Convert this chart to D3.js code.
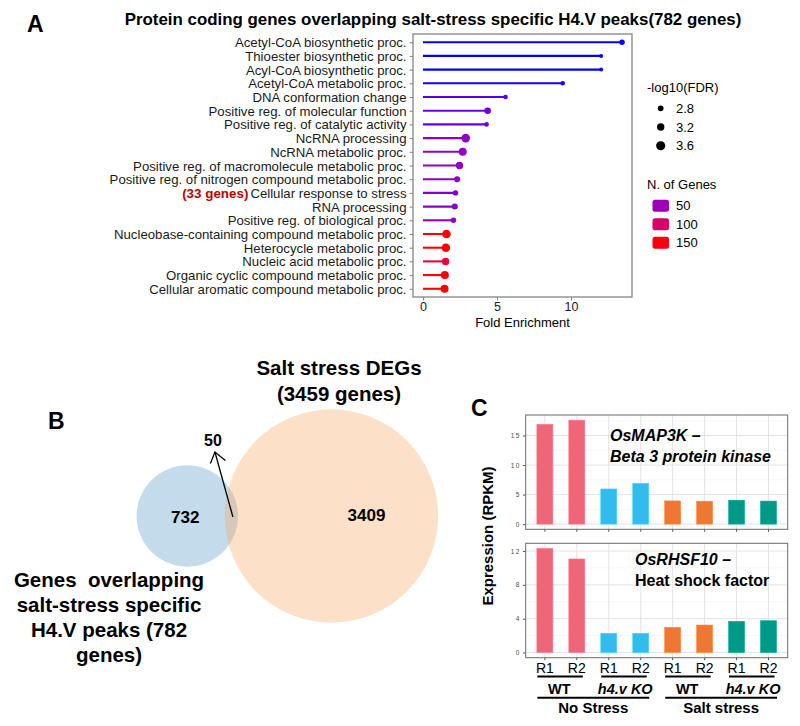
<!DOCTYPE html>
<html><head><meta charset="utf-8">
<script src="https://cdn.jsdelivr.net/npm/d3@7"></script>
<style>
body{margin:0;background:#fff}
svg{font-family:"Liberation Sans",Arial,Helvetica,sans-serif}
</style>
</head><body>
<svg id="fig" width="800" height="726"></svg>
<script>
// ---------------- Panel A data ----------------
const terms = [
  "Acetyl-CoA biosynthetic proc.",
  "Thioester biosynthetic proc.",
  "Acyl-CoA biosynthetic proc.",
  "Acetyl-CoA metabolic proc.",
  "DNA conformation change",
  "Positive reg. of molecular function",
  "Positive reg. of catalytic activity",
  "NcRNA processing",
  "NcRNA metabolic proc.",
  "Positive reg. of macromolecule metabolic proc.",
  "Positive reg. of nitrogen compound metabolic proc.",
  "Cellular response to stress",
  "RNA processing",
  "Positive reg. of biological proc.",
  "Nucleobase-containing compound metabolic proc.",
  "Heterocycle metabolic proc.",
  "Nucleic acid metabolic proc.",
  "Organic cyclic compound metabolic proc.",
  "Cellular aromatic compound metabolic proc."
];
const foldEnrichment = [13.45, 12.04, 12.04, 9.44, 5.58, 4.37, 4.30, 2.89, 2.69, 2.47, 2.31, 2.20, 2.15, 2.06, 1.59, 1.55, 1.53, 1.48, 1.46];
const negLog10FDR   = [2.73, 2.40, 2.40, 2.54, 2.54, 3.00, 2.54, 3.47, 3.33, 3.19, 2.87, 2.73, 2.87, 2.73, 3.47, 3.47, 3.19, 3.33, 3.33];
const nGenes        = [5, 5, 5, 6, 14, 24, 23, 40, 44, 42, 40, 33, 38, 45, 151, 153, 130, 153, 151];
const highlightTerm = "Cellular response to stress";
const highlightNote = "(33 genes)";
const xTicksA = [0, 5, 10];
const fdrLegend = [2.8, 3.2, 3.6];
const genesLegend = [50, 100, 150];

// ---------------- Panel B data ----------------
const vennLabels = ["Genes  overlapping|salt-stress specific|H4.V peaks (782|genes)", "Salt stress DEGs|(3459 genes)"];
const vennTotals = [782, 3459];
const vennOnly = [732, 3409];
const vennShared = 50;

// ---------------- Panel C data ----------------
const replicates = ["R1", "R2", "R1", "R2", "R1", "R2", "R1", "R2"];
const genotypes = ["WT", "h4.v KO", "WT", "h4.v KO"];
const conditions = ["No Stress", "Salt stress"];
const osMAP3K = [16.9, 17.6, 5.95, 6.9, 3.93, 3.88, 4.05, 3.9];
const osRHSF10 = [12.3, 11.06, 2.27, 2.27, 2.98, 3.25, 3.69, 3.76];
const ticksMAP3K = [0, 5, 10, 15];
const ticksRHSF10 = [0, 4, 8, 12];
const groupColors = ["#EE6677", "#33BBEE", "#EE7733", "#009988"];

const svg = d3.select("#fig");
const F = '"Liberation Sans",Arial,sans-serif';

// =============== PANEL A ===============
svg.append("text").attr("x", 27).attr("y", 32).attr("font-size", 23).attr("font-weight", "bold").text("A");
svg.append("text").attr("x", 433).attr("y", 25).attr("text-anchor", "middle")
  .attr("font-size", 16.9).attr("font-weight", "bold")
  .text("Protein coding genes overlapping salt-stress specific H4.V peaks(782 genes)");

const boxA = {l: 413, r: 632, t: 34, b: 297};
const maxFE = d3.max(foldEnrichment);
const xA = d3.scaleLinear().domain([-0.05 * maxFE, 1.05 * maxFE]).range([boxA.l, boxA.r]);
const yA = d3.scalePoint().domain(terms).range([boxA.t, boxA.b]).padding(0.6);
const colA = d3.scaleLinear().domain(d3.extent(nGenes)).range(["blue", "red"]).interpolate(d3.interpolateLab);
const rA = d3.scaleLinear().domain([2.4, 3.8]).range([2, 5]);

const gA = svg.append("g");
gA.append("rect").attr("x", boxA.l).attr("y", boxA.t).attr("width", boxA.r - boxA.l).attr("height", boxA.b - boxA.t)
  .attr("fill", "#fff").attr("stroke", "#858585").attr("stroke-width", 1.3);

const axL = gA.append("g").attr("transform", `translate(${boxA.l},0)`)
  .call(d3.axisLeft(yA).tickSize(3.5).tickPadding(3));
axL.select(".domain").remove();
axL.selectAll("line").attr("stroke", "#858585");
axL.selectAll("text").attr("font-size", 13.2).attr("font-family", F).attr("fill", "#1a1a1a").attr("dy", "0.34em");
axL.selectAll(".tick").filter(d => d === highlightTerm).each(function () {
  const t = d3.select(this).select("text");
  const bb = t.node().getBBox();
  d3.select(this).append("text").attr("x", bb.x - 2).attr("y", 0).attr("dy", "0.34em")
    .attr("text-anchor", "end").attr("font-size", 13.4).attr("font-weight", "bold").attr("fill", "#c00000")
    .attr("font-family", F).text(highlightNote);
});

const axB = gA.append("g").attr("transform", `translate(0,${boxA.b})`)
  .call(d3.axisBottom(xA).tickValues(xTicksA).tickSize(3.5).tickPadding(2));
axB.select(".domain").remove();
axB.selectAll("line").attr("stroke", "#858585");
axB.selectAll("text").attr("font-size", 12.5).attr("font-family", F).attr("fill", "#1a1a1a");
gA.append("text").attr("x", (boxA.l + boxA.r) / 2).attr("y", 327).attr("text-anchor", "middle")
  .attr("font-size", 13).text("Fold Enrichment");

const rows = terms.map((t, i) => ({t, fe: foldEnrichment[i], fdr: negLog10FDR[i], n: nGenes[i]}));
gA.selectAll("line.stem").data(rows).join("line").attr("class", "stem")
  .attr("x1", xA(0)).attr("x2", d => xA(d.fe)).attr("y1", d => yA(d.t)).attr("y2", d => yA(d.t))
  .attr("stroke", d => colA(d.n)).attr("stroke-width", 2.1);
gA.selectAll("circle.pt").data(rows).join("circle").attr("class", "pt")
  .attr("cx", d => xA(d.fe)).attr("cy", d => yA(d.t)).attr("r", d => rA(d.fdr)).attr("fill", d => colA(d.n));

// legends
const lg = svg.append("g");
lg.append("text").attr("x", 647).attr("y", 92).attr("font-size", 13).text("-log10(FDR)");
const yFdr = d3.scalePoint().domain(fdrLegend).range([108.3, 145.7]);
fdrLegend.forEach(v => {
  lg.append("circle").attr("cx", 660.7).attr("cy", yFdr(v)).attr("r", rA(v)).attr("fill", "#000");
  lg.append("text").attr("x", 676).attr("y", yFdr(v)).attr("dy", "0.36em").attr("font-size", 13).text(d3.format(".1f")(v));
});
lg.append("text").attr("x", 647).attr("y", 189).attr("font-size", 13).text("N. of Genes");
const yGen = d3.scalePoint().domain(genesLegend).range([205.7, 242.7]);
genesLegend.forEach(v => {
  lg.append("rect").attr("x", 652.5).attr("y", yGen(v) - 6).attr("width", 16.5).attr("height", 12).attr("rx", 2.5)
    .attr("fill", colA(v));
  lg.append("text").attr("x", 676).attr("y", yGen(v)).attr("dy", "0.36em").attr("font-size", 13).text(v);
});

// =============== PANEL B (Venn) ===============
const gB = svg.append("g");
gB.append("text").attr("x", 48).attr("y", 429).attr("font-size", 23).attr("font-weight", "bold").text("B");
const k = 50.7 / Math.sqrt(vennTotals[0]);           // px per sqrt(gene): area-proportional circles
const r1 = k * Math.sqrt(vennTotals[0]);
const r2 = k * Math.sqrt(vennTotals[1]);
function lens(d) {
  const a1 = 2 * Math.acos((d * d + r1 * r1 - r2 * r2) / (2 * d * r1));
  const a2 = 2 * Math.acos((d * d + r2 * r2 - r1 * r1) / (2 * d * r2));
  return 0.5 * r1 * r1 * (a1 - Math.sin(a1)) + 0.5 * r2 * r2 * (a2 - Math.sin(a2));
}
const targetArea = Math.PI * k * k * vennShared;
let lo = r2 - r1 + 0.01, hi = r1 + r2 - 0.01;
for (let i = 0; i < 60; i++) { const m = (lo + hi) / 2; if (lens(m) > targetArea) lo = m; else hi = m; }
const dist = (lo + hi) / 2;
const cy = 516, c1x = 187.3, c2x = c1x + dist;
gB.append("circle").attr("cx", c1x).attr("cy", cy).attr("r", r1).attr("fill", "#c3dbeb");
gB.append("circle").attr("cx", c2x).attr("cy", cy).attr("r", r2).attr("fill", "#f8aa69").attr("fill-opacity", 0.37);
gB.append("text").attr("x", c1x - 2).attr("y", cy + 6.5).attr("text-anchor", "middle").attr("font-size", 17).attr("font-weight", "bold").text(vennOnly[0]);
gB.append("text").attr("x", c2x + 35).attr("y", cy + 4.5).attr("text-anchor", "middle").attr("font-size", 17).attr("font-weight", "bold").text(vennOnly[1]);
// shared count with arrow
const lensX = ((c1x + r1) + (c2x - r2)) / 2;
const tip = [lensX - 16.5, 452];
gB.append("line").attr("x1", lensX + 1.5).attr("y1", cy + 1).attr("x2", tip[0]).attr("y2", tip[1]).attr("stroke", "#000").attr("stroke-width", 1.3);
gB.append("polyline").attr("points", `${tip[0] - 4.5},${tip[1] + 11.5} ${tip[0]},${tip[1]} ${tip[0] + 10.5},${tip[1] + 8.5}`)
  .attr("fill", "none").attr("stroke", "#000").attr("stroke-width", 1.3);
gB.append("text").attr("x", tip[0] - 2).attr("y", 445.5).attr("text-anchor", "middle").attr("font-size", 16).attr("font-weight", "bold").text(vennShared);
// set labels
const lab1 = vennLabels[0].split("|");
lab1.forEach((s, i) => gB.append("text").attr("x", 109).attr("y", 586.7 + i * 25.2).attr("text-anchor", "middle")
  .attr("font-size", 20.5).attr("font-weight", "bold").style("white-space", "pre").text(s));
const lab2 = vennLabels[1].split("|");
lab2.forEach((s, i) => gB.append("text").attr("x", 339).attr("y", 375 + i * 25.5).attr("text-anchor", "middle")
  .attr("font-size", 20.5).attr("font-weight", "bold").text(s));

// =============== PANEL C ===============
const gC = svg.append("g");
gC.append("text").attr("x", 471).attr("y", 416).attr("font-size", 23).attr("font-weight", "bold").text("C");
const boxCx = {l: 525.7, r: 787.7};
const xC = d3.scaleBand().domain(d3.range(replicates.length)).range([boxCx.l, boxCx.r]).paddingInner(0.5).paddingOuter(0.35);
const cx = i => xC(i) + xC.bandwidth() / 2;

function barPanel(values, ticks, top, bottom, line1, line2, italic2, lx, ly1, ly2) {
  const g = gC.append("g");
  const mx = d3.max(values);
  const y = d3.scaleLinear().domain([-0.05 * mx, 1.05 * mx]).range([bottom, top]);
  g.append("rect").attr("x", boxCx.l).attr("y", top).attr("width", boxCx.r - boxCx.l).attr("height", bottom - top).attr("fill", "#fff");
  const step = ticks[1] - ticks[0];
  const minor = ticks.map(t => t + step / 2).filter(t => t < y.domain()[1]);
  g.selectAll("line.mn").data(minor).join("line").attr("x1", boxCx.l).attr("x2", boxCx.r)
    .attr("y1", d => y(d)).attr("y2", d => y(d)).attr("stroke", "#f2f2f2").attr("stroke-width", 0.7);
  g.selectAll("line.mj").data(ticks).join("line").attr("x1", boxCx.l).attr("x2", boxCx.r)
    .attr("y1", d => y(d)).attr("y2", d => y(d)).attr("stroke", "#e3e3e3").attr("stroke-width", 1);
  g.selectAll("line.vg").data(d3.range(values.length)).join("line").attr("x1", d => cx(d)).attr("x2", d => cx(d))
    .attr("y1", top).attr("y2", bottom).attr("stroke", "#e3e3e3").attr("stroke-width", 1);
  g.selectAll("rect.bar").data(values).join("rect").attr("class", "bar")
    .attr("x", (d, i) => xC(i)).attr("width", xC.bandwidth())
    .attr("y", d => y(d)).attr("height", d => y(0) - y(d))
    .attr("fill", (d, i) => groupColors[Math.floor(i / 2)])
    .attr("stroke", (d, i) => d3.color(groupColors[Math.floor(i / 2)]).brighter(0.4)).attr("stroke-width", 0.6);
  g.append("rect").attr("x", boxCx.l).attr("y", top).attr("width", boxCx.r - boxCx.l).attr("height", bottom - top)
    .attr("fill", "none").attr("stroke", "#6b6b6b").attr("stroke-width", 1);
  const ay = g.append("g").attr("transform", `translate(${boxCx.l},0)`).call(d3.axisLeft(y).tickValues(ticks).tickSize(2.7).tickPadding(2.5));
  ay.select(".domain").remove();
  ay.selectAll("line").attr("stroke", "#555");
  ay.selectAll("text").attr("font-size", 6.5).attr("font-family", F).attr("fill", "#4d4d4d").style("letter-spacing", "1.2px");
  const ax = g.append("g").attr("transform", `translate(0,${bottom})`).call(d3.axisBottom(xC).tickSize(2.5).tickFormat(""));
  ax.select(".domain").remove();
  ax.selectAll("line").attr("stroke", "#555");
  g.append("text").attr("x", lx).attr("y", ly1).attr("font-size", 16).attr("font-weight", "bold").attr("font-style", "italic").text(line1);
  g.append("text").attr("x", lx).attr("y", ly2).attr("font-size", 16).attr("font-weight", "bold").attr("font-style", italic2 ? "italic" : "normal").text(line2);
  return y;
}
barPanel(osMAP3K, ticksMAP3K, 415, 529.3, "OsMAP3K \u2013", "Beta 3 protein kinase", true, 610, 441, 461.7);
barPanel(osRHSF10, ticksRHSF10, 543.3, 657.7, "OsRHSF10 \u2013", "Heat shock factor", false, 635, 565, 585.5);

gC.append("text").attr("transform", "translate(493,536) rotate(-90)").attr("text-anchor", "middle")
  .attr("font-size", 15).attr("font-weight", "bold").text("Expression (RPKM)");

// x labels
replicates.forEach((r, i) => gC.append("text").attr("x", cx(i)).attr("y", 672.7).attr("text-anchor", "middle").attr("font-size", 14).text(r));
genotypes.forEach((gname, j) => {
  const a = cx(2 * j), b = cx(2 * j + 1);
  gC.append("line").attr("x1", a - 7.5).attr("x2", b + 6).attr("y1", 676.5).attr("y2", 676.5).attr("stroke", "#000").attr("stroke-width", 2);
  gC.append("text").attr("x", (a + b) / 2 + (j % 2 ? 0.5 : -1.5)).attr("y", 693.5).attr("text-anchor", "middle")
    .attr("font-size", 14.5).attr("font-weight", "bold").attr("font-style", gname === "WT" ? "normal" : "italic").text(gname);
});
conditions.forEach((c, j) => {
  const a = cx(4 * j), b = cx(4 * j + 3);
  gC.append("line").attr("x1", a - 7.5).attr("x2", b + 8.5).attr("y1", 697.8).attr("y2", 697.8).attr("stroke", "#000").attr("stroke-width", 2);
  gC.append("text").attr("x", (a + b) / 2 + 0.5).attr("y", 713).attr("text-anchor", "middle")
    .attr("font-size", 15).attr("font-weight", "bold").text(c);
});
</script>
</body></html>
